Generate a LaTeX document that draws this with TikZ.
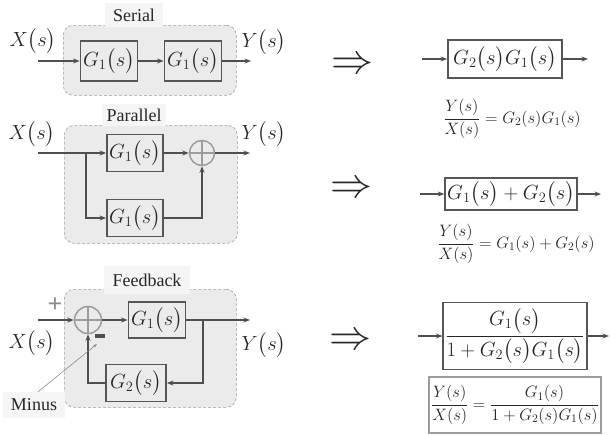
\RequirePackage{fix-cm}
\documentclass[tikz,border=0pt]{standalone}
\usepackage{amsmath}
\usepackage{fontspec}
\setmainfont{Liberation Serif}
\usetikzlibrary{arrows.meta,positioning,calc}
\definecolor{ink}{HTML}{262626}
\definecolor{wire}{HTML}{4F4F4F}
\definecolor{frame}{HTML}{565656}
\definecolor{panel}{HTML}{EBEBEB}
\definecolor{panelline}{HTML}{9C9C9C}
\definecolor{tagfill}{HTML}{F5F5F5}
\definecolor{signgray}{HTML}{8A8A8A}
\newcommand{\Gfun}[1]{G_{#1}\bigl(s\bigr)}
\newcommand{\Xfun}{X\bigl(s\bigr)}
\newcommand{\Yfun}{Y\bigl(s\bigr)}
\tikzset{
  >={Stealth[length=6.5pt,width=5pt]},
  flow/.style={->,draw=wire,line width=2.2pt},
  hint/.style={-{Stealth[length=4pt,width=3pt]},draw=signgray,line width=0.6pt},
  panelbox/.style={draw=panelline,fill=panel,densely dashed,rounded corners=10pt,line width=0.6pt},
  tag/.style={fill=tagfill,font=\fontsize{18}{21}\selectfont,text=ink,inner sep=0pt},
  block/.style={draw=frame,fill=panel,line width=1.8pt,inner sep=2pt,font=\fontsize{20.5}{24}\selectfont,text=ink},
  result/.style={block,fill=white},
  signal/.style={font=\fontsize{20.5}{24}\selectfont,text=ink},
  formula/.style={font=\fontsize{16.5}{19}\selectfont,text=ink},
  summer/.style={circle,draw=panelline,line width=1.5pt,fill=panel,minimum size=25pt,inner sep=0pt,
    path picture={\draw[panelline,line width=1.2pt] (path picture bounding box.north) -- (path picture bounding box.south)
      (path picture bounding box.west) -- (path picture bounding box.east);}},
  implies/.style={font=\fontsize{42}{42}\selectfont,text=ink},
}

\begin{document}
\begin{tikzpicture}[x=1pt,y=-1pt]
\useasboundingbox (0,0) rectangle (610,434);

% (a) Serial ------------------------------------------------------------------
\node[panelbox,minimum width=173pt,minimum height=70pt,anchor=north west] (serial) at (63,25) {};
\node[tag,minimum width=58pt,minimum height=24pt] (seriallbl) at (134,15) {Serial};
\node[block,minimum width=57pt,minimum height=40pt] (sg1) at (109,61) {$\Gfun{1}$};
\node[block,minimum width=57pt,minimum height=40pt] (sg2) at (193,61) {$\Gfun{1}$};
\node[signal] (sx) at (33,41) {$\Xfun$};
\node[signal] (sy) at (264,42) {$\Yfun$};
\coordinate (sin) at (38,61);
\coordinate (sout) at (251,61);
\draw[flow] (sin) -- (sg1);
\draw[flow] (sg1) -- (sg2);
\draw[flow] (sg2) -- (sout);

% (b) Parallel ----------------------------------------------------------------
\node[panelbox,minimum width=173pt,minimum height=118pt,anchor=north west] (parallel) at (64,125) {};
\node[tag,minimum width=64pt,minimum height=22pt] (parallellbl) at (134,115) {Parallel};
\node[block,minimum width=56pt,minimum height=37pt] (pg1) at (135,153) {$\Gfun{1}$};
\node[block,minimum width=56pt,minimum height=37pt] (pg2) at (135,218) {$\Gfun{1}$};
\node[summer] (psum) at (202,153) {};
\node[signal] (px) at (32,134) {$\Xfun$};
\node[signal] (py) at (264,134) {$\Yfun$};
\coordinate (pin) at (38,153);
\coordinate (psplit) at (86,153);
\coordinate (pout) at (250,153);
\draw[flow] (pin) -- (pg1);
\draw[flow] (psplit) |- (pg2);
\draw[flow] (pg1) -- (psum);
\draw[flow] (pg2) -| (psum);
\draw[flow] (psum) -- (pout);

% (c) Feedback ----------------------------------------------------------------
\node[panelbox,minimum width=172pt,minimum height=118pt,anchor=north west] (feedback) at (64,289) {};
\node[tag,minimum width=86pt,minimum height=28pt] (feedbacklbl) at (147,280) {Feedback};
\node[summer,minimum size=27pt] (fsum) at (88,320) {};
\node[block,minimum width=57pt,minimum height=36pt] (fg1) at (157,320) {$\Gfun{1}$};
\node[block,minimum width=60pt,minimum height=37pt] (fg2) at (136,383) {$\Gfun{2}$};
\node[signal] (fx) at (32,343) {$\Xfun$};
\node[signal] (fy) at (264,345) {$\Yfun$};
\node[font=\fontsize{26}{26}\selectfont\bfseries,text=signgray,inner sep=0pt] (fplus) at (55,305) {+};
\node[fill=wire,minimum width=10pt,minimum height=4pt,inner sep=0pt] (fminus) at (100,336) {};
\node[tag,minimum width=62pt,minimum height=26pt] (minuslbl) at (34,405) {Minus};
\coordinate (fhint) at (97,344);
\coordinate (fin) at (38,320);
\coordinate (fsplit) at (203,320);
\coordinate (fout) at (250,320);
\draw[flow] (fin) -- (fsum);
\draw[flow] (fsum) -- (fg1);
\draw[flow] (fg1) -- (fout);
\draw[flow] (fsplit) |- (fg2);
\draw[flow] (fg2) -| (fsum);
\draw[hint] ([xshift=4pt]minuslbl.north) -- (fhint);

% Reduced forms ---------------------------------------------------------------
\node[implies] (imp1) at (352,66) {$\Rightarrow$};
\node[implies] (imp2) at (351,190) {$\Rightarrow$};
\node[implies] (imp3) at (350,342) {$\Rightarrow$};

\node[result,minimum width=114pt,minimum height=38pt] (r1) at (505,59) {$\Gfun{2}\Gfun{1}$};
\coordinate (r1in) at (422,59);
\coordinate (r1out) at (588,59);
\draw[flow] (r1in) -- (r1);
\draw[flow] (r1) -- (r1out);
\node[formula] (e1) at (512,119) {$\dfrac{Y(s)}{X(s)}=G_2(s)G_1(s)$};

\node[result,minimum width=128pt,minimum height=32pt] (r2) at (511,194) {$\Gfun{1}+\Gfun{2}$};
\coordinate (r2in) at (420,194);
\coordinate (r2out) at (601,194);
\draw[flow] (r2in) -- (r2);
\draw[flow] (r2) -- (r2out);
\node[formula] (e2) at (516,244) {$\dfrac{Y(s)}{X(s)}=G_1(s)+G_2(s)$};

\node[result,minimum width=141pt,minimum height=67pt] (r3) at (515,336) {$\dfrac{\Gfun{1}}{1+\Gfun{2}\Gfun{1}}$};
\coordinate (r3in) at (418,336);
\coordinate (r3out) at (609,336);
\draw[flow] (r3in) -- (r3);
\draw[flow] (r3) -- (r3out);
\node[formula,draw=panelline,line width=1.4pt,fill=white,inner sep=2pt,minimum width=169pt,minimum height=56pt] (e3) at (515,405) {$\dfrac{Y(s)}{X(s)}=\dfrac{G_1(s)}{1+G_2(s)G_1(s)}$};

\end{tikzpicture}
\end{document}
